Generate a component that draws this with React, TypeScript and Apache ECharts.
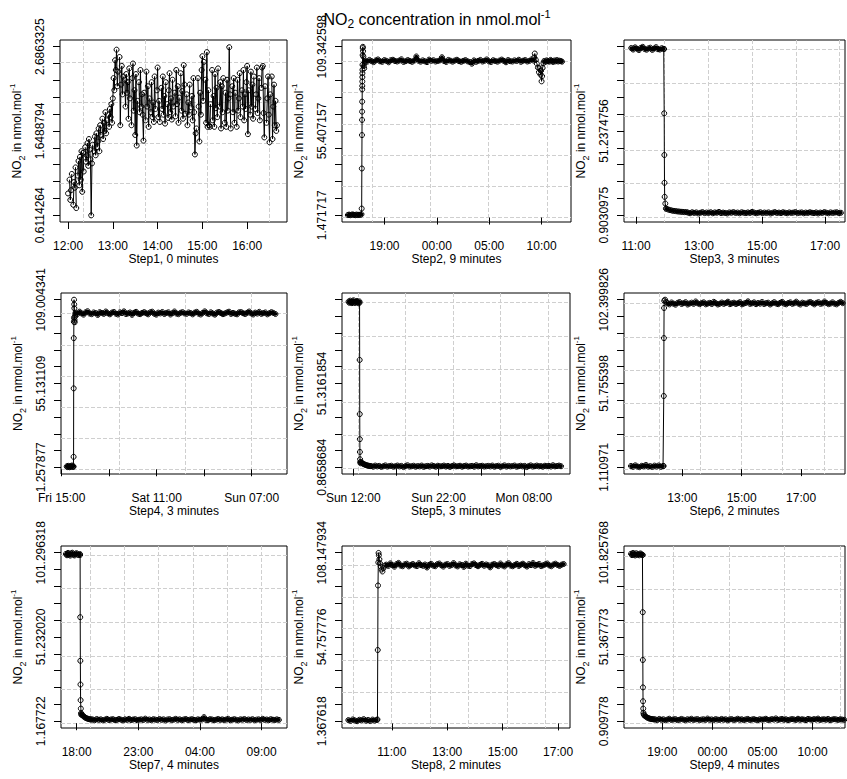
import { useEffect, useRef } from "react";
import * as echarts from "echarts";

const FONT = '"Liberation Sans", Arial, Helvetica, sans-serif';

// ---------- Step 1 (one sample per minute, 12:00 - 16:40; null = no sample) ----------
const step1Span = [12.0, 16.6667];
const step1Values = [
  0.88, null, 1.05, 0.8, 0.92, 1.12, null, 0.74, 1.02, 0.95, 1.2, 0.7, null, 1.1, 1.28, 0.98, 1.33, 1.05, 1.4, 0.9,
  1.38, 1.15, null, 1.45, 1.27, 1.35, 1.5, 1.22, 1.55, 1.42, 1.3, 0.61, 1.25, 1.48, null, 1.4, 1.58, 1.35, 1.62, 1.45,
  1.52, 1.68, 1.4, 1.72, 1.6, null, 1.8, 1.55, 1.75, 1.65, 1.88, 1.62, 1.78, null, 1.85, 1.7, 1.92, 1.82, 1.98, 1.75,
  2.05, 2.3, 2.15, 2.52, 2.4, 2.65, 2.2, 2.38, null, 2.56, 1.72, 2.22, 2.45, 2.1, 2.32, null, 2.28, 1.95, 2.35, 2.12,
  2.25, 1.8, 2.42, 2.05, null, 1.72, 2.3, 2.48, 1.9, 2.15, 1.6, 2.35, 1.47, 2.02, null, 2.25, 1.88, 2.4, 1.95, 2.1,
  1.85, 1.53, 2.12, null, 1.78, 2.38, 1.95, 2.2, 1.7, 2.05, null, 1.88, 2.25, 1.82, 2.0, 1.76, 2.32, 1.92, null, 2.15,
  2.43, 1.82, 2.02, 1.76, null, 2.18, 1.92, 2.32, 1.85, 2.08, 1.74, 2.25, null, 1.98, 1.81, 2.15, 2.36, 1.88, 2.05, 1.79,
  2.28, 1.95, null, 2.12, 1.83, 2.4, 1.98, 2.2, 1.75, 2.06, null, 2.36, 1.9, 2.14, 1.8, 2.46, 2.22, 1.86, null, 2.1,
  1.72, 2.0, 1.85, 2.22, null, 1.94, 2.08, 1.78, 2.3, 1.88, 1.36, 1.62, 1.68, null, 2.3, 1.95, 1.52, 2.12, 1.85, 2.4,
  2.57, 2.02, 2.5, null, 2.28, 1.75, 2.62, 1.7, 2.15, 1.72, 1.7, 1.98, null, 2.4, 1.78, 2.08, 1.7, 2.35, 1.93, 2.18,
  1.82, 2.42, null, 1.95, 2.25, 1.68, 2.2, 1.88, 2.3, null, 1.75, 2.12, 1.7, 2.28, 1.9, 2.05, 2.68, 2.1, 1.68, null,
  2.2, 1.88, 2.3, 1.75, 2.12, null, 1.7, 2.28, 1.9, 2.05, 2.36, 1.82, null, 2.15, 1.95, 2.4, 1.78, 2.1, 1.92, 2.25,
  2.45, 1.61, 2.15, null, 1.85, 2.38, 1.95, 2.22, 1.8, 2.32, null, 1.92, 2.1, 2.43, 1.87, 2.05, 2.3, 1.78, null, 2.18,
  2.43, 2.45, 1.87, 1.57, 2.2, null, 1.75, 2.05, 2.32, 1.85, 1.51, 2.1, null, 2.32, 1.55, 1.95, 2.22, 1.72, 2.02, 1.65,
  1.72,
];

// ---------- Step 2 ----------
const step2Low = [1.6, 1.9, 1.5, 1.8, 2.0, 1.7, 1.5, 1.9, 1.6, 1.8, 1.7, 2.1];
const step2Rise = [
  [16.82, 5.75], [16.835, 31.4], [16.85, 52.8], [16.855, 62.5], [16.86, 67.8], [16.865, 74.2],
  [16.87, 82.1], [16.875, 84.3], [16.88, 87.1], [16.885, 89.9], [16.89, 92.4], [16.895, 94.6],
  [16.9, 97.8], [16.91, 104.0], [16.92, 108.5], [16.93, 109.3], [16.95, 106.5], [16.98, 103.0],
  [17.02, 97.0], [17.06, 95.5], [17.1, 99.0],
];
const step2Plateau = [
  100.4, 99.8, 100.9, 100.1, 99.5, 100.6, 101.2, 100.0, 99.7, 100.8,
  100.3, 99.4, 100.7, 101.0, 100.2, 99.9, 100.5, 101.3, 99.6, 100.1,
  100.8, 100.2, 99.7, 100.5, 103.1, 100.4, 99.8, 100.6, 100.0, 99.5,
  101.1, 100.3, 100.7, 99.9, 100.2, 100.6, 102.6, 100.2, 99.6, 100.9,
  100.4, 99.8, 100.5, 101.0, 100.1, 99.7, 100.3, 100.8, 100.0, 99.6,
  98.5, 100.6, 99.7, 100.3, 100.9, 99.9, 100.4, 101.2, 100.0, 99.6,
  100.7, 100.2, 99.8, 100.5, 101.1, 100.3, 99.4, 100.8, 100.1, 99.9,
  100.6, 100.2, 101.0, 99.7, 100.4, 100.8, 99.9, 100.3, 101.2, 100.5,
];
const step2Dip = [
  [33.3, 102.5], [33.35, 105.0], [33.45, 101.0], [33.55, 98.5], [33.65, 96.0], [33.75, 93.0],
  [33.8, 95.5], [33.9, 91.5], [33.95, 94.0], [34.0, 87.2], [34.05, 90.5], [34.1, 95.8], [34.18, 98.8],
];
const step2Tail = [100.2, 99.7, 100.6, 100.1, 99.8, 100.9, 100.3, 99.6, 100.5, 100.0, 100.8, 99.9, 100.4, 100.2, 99.8];

// ---------- Step 3 ----------
const step3High = [100.8, 99.9, 101.2, 100.4, 99.6, 100.9, 101.5, 100.2, 99.8, 100.6, 101.0, 99.7, 100.5, 101.3, 100.1, 99.9, 100.7, 100.3];
const step3Drop = [[11.89, 100.2], [11.895, 61.8], [11.9, 36.9], [11.905, 20.3], [11.91, 11.9], [11.93, 7.9], [11.95, 4.9]];
const step3Decay = [4.8, 4.3, 4.0, 3.7, 3.5, 3.4, 3.2, 3.1, 3.0, 2.9, 2.8, 2.8];
const step3Low = [
  2.5, 2.1, 2.7, 2.3, 2.6, 2.0, 2.4, 2.8, 2.2, 2.5,
  2.3, 2.7, 2.1, 2.6, 2.4, 2.9, 2.2, 2.5, 2.3, 2.0,
  2.6, 2.4, 2.8, 2.3, 2.5, 2.1, 2.7, 2.4, 2.2, 2.6,
  2.3, 2.9, 2.5, 2.1, 2.4, 2.7, 2.2, 2.5, 2.3, 2.6,
  2.0, 2.4, 2.8, 2.3, 2.5, 2.2, 2.7, 2.4, 2.1, 2.6,
  2.3, 2.5, 2.8, 2.2, 2.4, 2.6, 2.1, 2.5, 2.3, 2.7,
  2.4, 2.2, 2.6, 2.0, 2.5, 2.3, 2.8, 2.4, 2.1, 2.6,
  2.3, 2.5, 2.7, 2.2, 2.4,
];

// ---------- Step 4 (hours from Friday 00:00) ----------
const step4Low = [1.8, 1.4, 2.2, 1.6, 1.3, 2.0, 1.7, 2.4, 1.5, 1.9];
const step4Rise = [
  [17.47, 1.6], [17.5, 8.0], [17.52, 52.0], [17.54, 84.3], [17.56, 94.8], [17.58, 97.5], [17.6, 109.0],
  [17.63, 106.0], [17.66, 103.5], [17.7, 96.0], [17.74, 94.5], [17.8, 98.0], [17.85, 99.5],
];
const step4Plateau = [
  100.6, 99.8, 101.3, 100.2, 99.4, 100.9, 101.6, 100.1, 99.7, 100.8,
  100.4, 99.2, 101.0, 100.5, 99.9, 101.4, 100.3, 99.6, 100.7, 101.1,
  100.0, 99.5, 100.9, 100.4, 101.5, 99.8, 100.2, 100.8, 99.3, 100.6,
  101.2, 100.1, 99.7, 100.5, 101.0, 100.3, 99.6, 100.9, 101.3, 100.0,
  99.4, 100.7, 100.2, 101.1, 99.8, 100.5, 100.9, 99.5, 100.3, 101.4,
  100.1, 99.7, 100.6, 101.0, 100.2, 99.9, 100.8, 100.4, 99.6, 100.7,
  101.2, 100.0, 99.5, 100.6, 101.5, 100.3, 99.8, 100.9, 100.1, 99.4,
  100.7, 101.1, 100.4, 99.7, 100.2, 100.8, 101.3, 99.9, 100.5, 100.0,
  99.6, 100.9, 101.0, 100.3, 99.8, 100.6, 101.4, 100.2, 99.5, 100.7,
  100.1, 101.2, 99.9, 100.4, 100.8, 99.6, 100.3, 101.0, 100.5, 99.8,
];

// ---------- Step 5 (hours from Sunday 00:00) ----------
const step5High = [100.6, 99.9, 101.2, 100.3, 99.7, 100.8, 101.4, 100.1, 99.8, 100.5, 101.0, 100.2, 99.6, 100.7];
const step5Drop = [[12.74, 100.0], [12.75, 65.5], [12.76, 32.9], [12.77, 17.8], [12.78, 10.1], [12.8, 5.7], [12.82, 4.0], [12.85, 3.3]];
const step5Decay = [4.0, 3.5, 3.0, 2.7, 2.4, 2.2, 2.0, 1.8, 1.7, 1.6];
const step5Low = [
  1.6, 1.2, 1.9, 1.4, 1.7, 1.1, 1.5, 2.0, 1.3, 1.6,
  1.8, 1.2, 1.5, 1.9, 1.4, 1.7, 1.0, 1.6, 2.1, 1.3,
  1.5, 1.8, 1.2, 1.6, 1.4, 1.9, 1.1, 1.5, 1.7, 1.3,
  2.0, 1.6, 1.2, 1.8, 1.4, 1.5, 1.9, 1.3, 1.7, 1.1,
  1.6, 2.0, 1.4, 1.5, 1.8, 1.2, 1.6, 1.9, 1.3, 1.5,
  1.7, 1.2, 2.1, 1.4, 1.6, 1.8, 1.3, 1.5, 1.7, 1.4,
  1.9, 1.2, 1.6, 1.8, 1.1, 1.5, 2.0, 1.3, 1.7, 1.4,
  1.6, 1.9, 1.2, 1.5, 1.8, 1.4, 1.7, 1.0, 1.6, 2.0,
  1.3, 1.5, 1.9, 1.4, 1.6, 1.2, 1.8, 1.5, 1.7, 1.3,
  2.1, 1.4, 1.6, 1.9, 1.5,
];

// ---------- Step 6 ----------
const step6Low = [1.9, 1.4, 2.3, 1.6, 1.2, 2.0, 1.7, 2.5, 1.5, 1.8, 1.3, 2.1, 1.6, 2.2, 1.4, 1.9];
const step6Rise = [[12.37, 1.9], [12.375, 44.2], [12.38, 79.2], [12.385, 97.4], [12.39, 101.8], [12.42, 102.4], [12.45, 101.2]];
const step6Plateau = [
  100.2, 99.6, 100.7, 100.0, 99.4, 100.5, 101.0, 99.8, 100.3, 100.9,
  99.5, 100.1, 100.6, 99.9, 101.3, 100.2, 99.7, 100.4, 100.8, 99.6,
  100.1, 100.5, 99.8, 101.1, 100.3, 99.5, 100.0, 100.7, 99.9, 100.4,
  101.2, 99.7, 100.2, 100.6, 99.8, 100.3, 100.9, 99.6, 100.1, 100.5,
  101.4, 99.9, 100.2, 100.8, 99.7, 100.4, 100.0, 101.0, 99.8, 100.3,
  100.6, 99.5, 100.2, 100.9, 100.1, 99.7, 100.5, 101.1, 100.0, 99.6,
  100.4, 100.8, 99.9, 100.3, 101.2, 100.1, 99.5, 100.6, 100.2, 99.8,
  100.7, 101.0, 100.3, 99.6, 100.5, 100.9, 99.9, 100.2, 101.3, 100.4,
  99.7, 100.1, 100.8, 100.0, 99.6, 100.5, 101.1, 100.3,
];

// ---------- Step 7 ----------
const step7High = [100.6, 99.8, 101.2, 100.3, 99.6, 100.9, 101.3, 100.1, 99.7, 100.7, 101.0, 100.2, 99.9, 100.5];
const step7Drop = [[18.28, 100.0], [18.29, 63.0], [18.3, 37.1], [18.31, 23.0], [18.32, 13.7], [18.34, 8.7], [18.36, 6.0], [18.38, 5.0]];
const step7Decay = [5.5, 4.6, 4.0, 3.5, 3.1, 2.8, 2.6, 2.4, 2.3, 2.2];
const step7Low = [
  2.2, 1.8, 2.5, 2.0, 2.3, 1.7, 2.1, 2.6, 1.9, 2.2,
  2.4, 1.8, 2.0, 2.5, 2.1, 1.7, 2.3, 2.0, 2.6, 1.9,
  2.2, 2.4, 1.8, 2.1, 2.3, 1.9, 2.7, 2.0, 2.2, 1.8,
  2.4, 2.1, 1.9, 2.5, 2.0, 2.3, 1.7, 2.2, 2.4, 1.9,
  2.1, 2.6, 2.0, 2.3, 1.8, 2.2, 2.5, 1.9, 2.1, 2.4,
  2.0, 1.8, 2.3, 2.1, 2.2, 3.6, 2.0, 1.9, 2.4, 2.2,
  1.8, 2.1, 2.5, 2.0, 2.3, 1.9, 2.2, 2.6, 1.8, 2.1,
  2.4, 2.0, 1.7, 2.3, 2.1, 2.5, 1.9, 2.2, 2.0, 2.4,
  1.8, 2.1, 2.3, 1.9, 2.6, 2.0, 2.2, 1.8, 2.4, 2.1,
  1.9, 2.3, 2.0,
];

// ---------- Step 8 ----------
const step8Low = [2.1, 1.6, 2.5, 1.9, 1.4, 2.3, 2.0, 2.7, 1.7, 2.2, 1.5, 2.4, 1.8, 2.2];
const step8Rise = [
  [10.48, 2.5], [10.49, 46.5], [10.5, 87.4], [10.51, 102.0], [10.52, 108.0], [10.53, 106.5], [10.55, 104.0],
  [10.57, 101.5], [10.6, 99.4], [10.63, 97.5], [10.66, 96.3], [10.7, 98.5], [10.75, 100.0],
];
const step8Plateau = [
  100.6, 99.8, 101.4, 100.2, 99.3, 100.9, 101.7, 100.0, 99.6, 100.8,
  101.2, 99.5, 100.4, 101.0, 100.1, 99.7, 101.5, 100.3, 99.9, 100.7,
  98.8, 100.5, 101.1, 100.0, 99.6, 100.9, 101.3, 100.2, 99.4, 100.6,
  101.0, 99.8, 100.3, 101.6, 100.1, 99.5, 100.8, 100.4, 99.2, 101.2,
  100.0, 99.7, 100.9, 101.4, 100.3, 99.6, 100.5, 101.1, 99.9, 100.7,
  100.2, 98.9, 100.6, 101.0, 100.3, 99.7, 101.3, 100.1, 99.5, 100.8,
  101.5, 100.0, 99.6, 100.4, 101.1, 99.8, 100.6, 101.2, 100.2, 99.4,
  100.9, 100.3, 101.6, 99.9, 100.5, 101.0, 99.7, 100.2, 100.8, 101.3,
  100.1, 99.6, 100.7, 101.2, 100.4, 99.8, 100.6, 101.0,
];

// ---------- Step 9 ----------
const step9High = [101.2, 100.4, 101.7, 100.8, 100.2, 101.5, 100.6, 101.0, 100.3, 101.4, 100.9, 100.5];
const step9Drop = [[17.04, 100.5], [17.05, 66.2], [17.06, 37.6], [17.07, 21.2], [17.08, 12.9], [17.1, 8.5], [17.12, 6.0], [17.15, 5.0]];
const step9Decay = [4.5, 3.9, 3.4, 3.0, 2.7, 2.5, 2.3, 2.2, 2.1, 2.0];
const step9Low = [
  2.0, 1.6, 2.3, 1.8, 2.1, 1.5, 1.9, 2.4, 1.7, 2.0,
  2.2, 1.6, 1.8, 2.3, 1.9, 1.5, 2.1, 1.8, 2.4, 1.7,
  2.0, 2.2, 1.6, 1.9, 2.1, 1.7, 2.5, 1.8, 2.0, 1.6,
  2.2, 1.9, 1.7, 2.3, 1.8, 2.1, 1.5, 2.0, 2.2, 1.7,
  1.9, 2.4, 1.8, 2.1, 1.6, 2.0, 2.3, 1.7, 1.9, 2.2,
  1.8, 1.6, 2.1, 1.9, 2.0, 2.4, 1.7, 1.8, 2.2, 1.9,
  2.6, 1.7, 2.0, 2.3, 1.8, 2.1, 1.6, 1.9, 2.2, 2.0,
  1.7, 2.4, 1.8, 2.1, 1.9, 1.6, 2.3, 2.0, 1.8, 2.2,
  1.9, 2.5, 1.7, 2.0, 2.1, 1.8, 2.3, 1.6, 1.9, 2.2,
  2.0, 1.7, 2.1, 1.9, 1.8,
];

// ---------- axes ----------
const stepNames = [
  "Step1, 0 minutes", "Step2, 9 minutes", "Step3, 3 minutes",
  "Step4, 3 minutes", "Step5, 3 minutes", "Step6, 2 minutes",
  "Step7, 4 minutes", "Step8, 2 minutes", "Step9, 4 minutes",
];
const yTickRanges = [
  [0.6114264, 2.6863325], [1.471717, 109.342598], [0.9030975, 101.5718537],
  [1.257877, 109.004341], [0.8658684, 101.7665024], [1.110971, 102.399826],
  [1.167722, 101.296318], [1.367618, 108.147934], [0.909778, 101.825768],
];
const yLabelTexts = [
  ["0.6114264", "1.6488794", "2.6863325"], ["1.471717", "55.407157", "109.342598"], ["0.9030975", "51.2374756"],
  ["1.257877", "55.131109", "109.004341"], ["0.8658684", "51.3161854"], ["1.110971", "51.755398", "102.399826"],
  ["1.167722", "51.232020", "101.296318"], ["1.367618", "54.757776", "108.147934"], ["0.909778", "51.367773", "101.825768"],
];
const yGridValues = [
  [1.0, 1.5, 2.0, 2.5], [0, 20, 40, 60, 80, 100], [0, 20, 40, 60, 80, 100],
  [0, 20, 40, 60, 80, 100], [0, 20, 40, 60, 80, 100], [0, 20, 40, 60, 80, 100],
  [0, 20, 40, 60, 80, 100], [0, 20, 40, 60, 80, 100], [0, 20, 40, 60, 80, 100],
];
const xRanges = [
  [11.82, 16.89], [14.94, 36.81], [10.62, 17.63],
  [14.85, 62.43], [10.68, 37.4], [11.035, 18.48],
  [16.73, 35.06], [9.2, 17.43], [15.18, 37.23],
];
const xTickHours = [
  [12, 13, 14, 15, 16], [19, 24, 29, 34], [11, 13, 15, 17],
  [15, 25, 35, 45, 55], [12, 17, 22, 27, 32], [13, 15, 17],
  [18, 23, 28, 33], [11, 13, 15, 17], [19, 24, 29, 34],
];
const xTickLabels = [
  ["12:00", "13:00", "14:00", "15:00", "16:00"], ["19:00", "00:00", "05:00", "10:00"], ["11:00", "13:00", "15:00", "17:00"],
  ["Fri 15:00", "", "Sat 11:00", "", "Sun 07:00"], ["Sun 12:00", "", "Sun 22:00", "", "Mon 08:00"], ["13:00", "15:00", "17:00"],
  ["18:00", "23:00", "04:00", "09:00"], ["11:00", "13:00", "15:00", "17:00"], ["19:00", "00:00", "05:00", "10:00"],
];
const xGridHours = [
  [12.335, 13.724, 15.113, 16.502], [17.83, 23.39, 28.95, 34.51], [11.907, 13.296, 14.685, 16.074, 17.463],
  [27.19, 41.08, 54.97], [12.58, 18.14, 23.7, 29.25, 34.81], [12.21, 13.6, 14.99, 16.38, 17.77],
  [19.08, 21.86, 24.64, 27.42, 30.19, 32.97], [9.6, 10.99, 12.38, 13.77, 15.16, 16.55], [20.1, 25.65, 31.2, 36.76],
];

const spread = (t0: number, t1: number, vals: (number | null)[]) =>
  vals.map((v, i) => [t0 + (vals.length > 1 ? (i * (t1 - t0)) / (vals.length - 1) : 0), v === null ? "-" : v]);

// segments per panel: [points, isDenseRun]
const panelSegments: [any[], boolean][][] = [
  [[spread(step1Span[0], step1Span[1], step1Values), false]],
  [[spread(15.5, 16.8, step2Low), true], [step2Rise, false], [spread(17.15, 33.25, step2Plateau), true], [step2Dip, false], [spread(34.25, 35.95, step2Tail), true]],
  [[spread(10.85, 11.88, step3High), true], [step3Drop, false], [spread(11.97, 12.6, step3Decay), true], [spread(12.65, 17.5, step3Low), true]],
  [[spread(16.05, 17.45, step4Low), true], [step4Rise, false], [spread(17.9, 60.0, step4Plateau), true]],
  [[spread(11.45, 12.72, step5High), true], [step5Drop, false], [spread(12.9, 14.0, step5Decay), true], [spread(14.1, 36.35, step5Low), true]],
  [[spread(11.27, 12.35, step6Low), true], [step6Rise, false], [spread(12.5, 18.4, step6Plateau), true]],
  [[spread(17.13, 18.26, step7High), true], [step7Drop, false], [spread(18.4, 19.2, step7Decay), true], [spread(19.3, 34.4, step7Low), true]],
  [[spread(9.43, 10.46, step8Low), true], [step8Rise, false], [spread(10.8, 17.2, step8Plateau), true]],
  [[spread(15.88, 17.02, step9High), true], [step9Drop, false], [spread(17.2, 18.2, step9Decay), true], [spread(18.3, 37.15, step9Low), true]],
];

// panel boxes [left, top, width, height]
const boxes = [
  [60, 40, 227, 182], [342, 40, 229, 182], [624, 40, 221, 182],
  [61, 293, 226, 181], [342, 293, 228, 181], [624, 293, 221, 181],
  [61, 546, 226, 182], [342, 546, 228, 182], [624, 546, 221, 182],
];

const nearestLabel = (vals: number[], labels: string[]) => (v: number) => {
  let b = 0;
  for (let i = 1; i < vals.length; i++) if (Math.abs(vals[i] - v) < Math.abs(vals[b] - v)) b = i;
  return labels[b];
};

const richBase = (size: number) => ({
  n: { fontSize: size, fontFamily: FONT, color: "#000", lineHeight: size + 6 },
  s: { fontSize: Math.round(size * 0.75), fontFamily: FONT, color: "#000", verticalAlign: "bottom", lineHeight: Math.round(size * 0.75) },
  p: { fontSize: Math.round(size * 0.7), fontFamily: FONT, color: "#000", verticalAlign: "top", lineHeight: Math.round(size * 0.7) },
});

function buildOption() {
  const grid: any[] = [];
  const xAxis: any[] = [];
  const yAxis: any[] = [];
  const series: any[] = [];
  const gridLine = { show: true, lineStyle: { color: "#cfcfcf", width: 1, type: [4, 2] } };
  for (let i = 0; i < 9; i++) {
    const [l, t, w, h] = boxes[i];
    grid.push({ left: l, top: t, width: w, height: h, show: true, borderColor: "#000", borderWidth: 1, backgroundColor: "transparent", containLabel: false });
    const [lo, hi] = yTickRanges[i];
    const r = hi - lo;
    const yTicks = Array.from({ length: 11 }, (_, k) => lo + (k * r) / 10);
    const labVals = [lo, lo + r / 2, hi].slice(0, yLabelTexts[i].length);
    const [x0, x1] = xRanges[i];
    const xLabVals = xTickHours[i].filter((_, k) => xTickLabels[i][k] !== "");
    const xLabTxt = xTickLabels[i].filter((s) => s !== "");
    xAxis.push({
      gridIndex: i, type: "value", min: x0, max: x1, position: "bottom",
      axisLine: { show: false },
      axisTick: { show: true, length: 7, customValues: xTickHours[i], lineStyle: { color: "#000", width: 1 } },
      axisLabel: { show: true, customValues: xLabVals, formatter: nearestLabel(xLabVals, xLabTxt), margin: 18, fontSize: 12, fontFamily: FONT, color: "#000" },
      splitLine: { show: false },
      name: stepNames[i], nameLocation: "middle", nameGap: 31,
      nameTextStyle: { fontSize: 12, fontFamily: FONT, color: "#000" },
    });
    xAxis.push({
      gridIndex: i, type: "value", min: x0, max: x1, position: "bottom",
      axisLine: { show: false }, axisTick: { show: false, customValues: xGridHours[i] }, axisLabel: { show: false },
      splitLine: gridLine,
    });
    yAxis.push({
      gridIndex: i, type: "value", min: lo - 0.04 * r, max: hi + 0.04 * r, position: "left",
      axisLine: { show: false },
      axisTick: { show: true, length: 7, customValues: yTicks, lineStyle: { color: "#000", width: 1 } },
      axisLabel: { show: true, customValues: labVals, rotate: 90, formatter: nearestLabel(labVals, yLabelTexts[i]), margin: 14, fontSize: 12, fontFamily: FONT, color: "#000" },
      splitLine: { show: false },
      name: "{n|NO}{s|2}{n| in nmol.mol}{p|-1}", nameLocation: "middle", nameGap: 34, nameRotate: 90,
      nameTextStyle: { rich: richBase(12) },
    });
    yAxis.push({
      gridIndex: i, type: "value", min: lo - 0.04 * r, max: hi + 0.04 * r, position: "left",
      axisLine: { show: false }, axisTick: { show: false, customValues: yGridValues[i] }, axisLabel: { show: false },
      splitLine: gridLine,
    });
    const segs = panelSegments[i];
    const all: any[] = [];
    const dense: any[] = [];
    segs.forEach(([pts, isDense]) => {
      all.push(...pts);
      if (isDense) {
        if (dense.length) dense.push([pts[0][0], "-"]);
        dense.push(...pts);
      }
    });
    // heavily over-plotted runs of samples (solid black band)
    if (dense.length) {
      series.push({
        type: "line", xAxisIndex: 2 * i, yAxisIndex: 2 * i, data: dense,
        showSymbol: false, symbol: "none", connectNulls: false,
        lineStyle: { color: "#000", width: 3.5, join: "round", cap: "round" },
        emphasis: { disabled: true }, silent: true, clip: true, z: 2,
      });
    }
    series.push({
      type: "line", xAxisIndex: 2 * i, yAxisIndex: 2 * i, data: all,
      symbol: "circle", symbolSize: 5, showSymbol: true, showAllSymbol: true, connectNulls: false,
      lineStyle: { color: "#000", width: 1 },
      itemStyle: { color: "rgba(0,0,0,0)", borderColor: "#000", borderWidth: 1 },
      emphasis: { disabled: true }, silent: true, clip: true, z: 3,
    });
  }
  return {
    animation: false,
    backgroundColor: "#fff",
    grid, xAxis, yAxis, series,
    graphic: [
      {
        type: "text", x: 437, y: 19, z: 10,
        style: {
          text: "{n|NO}{s|2}{n| concentration in nmol.mol}{p|-1}",
          rich: richBase(16), align: "center", verticalAlign: "middle",
        },
      },
    ],
  };
}

export default function App() {
  const ref = useRef<HTMLDivElement>(null);
  useEffect(() => {
    if (!ref.current) return;
    const chart = echarts.init(ref.current, null, { renderer: "svg" });
    chart.setOption(buildOption() as any);
    return () => chart.dispose();
  }, []);
  return <div ref={ref} style={{ position: "fixed", left: 0, top: 0, width: 847, height: 779, background: "#fff" }} />;
}
